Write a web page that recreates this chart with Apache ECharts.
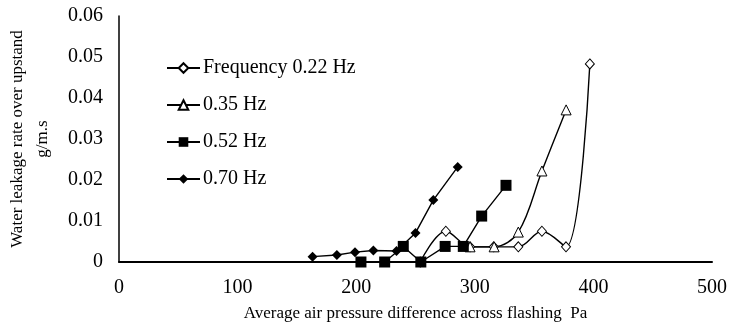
<!DOCTYPE html>
<html>
<head>
<meta charset="utf-8">
<script src="https://cdn.jsdelivr.net/npm/echarts@6/dist/echarts.min.js"></script>
<style>
  html, body { margin: 0; padding: 0; background: #fff; }
  #chart { width: 741px; height: 332px; }
</style>
</head>
<body>
<div id="chart"></div>
<script>
// Leakage rate (g/m.s) against average pressure difference (Pa), per oscillation frequency
const seriesNames = ['Frequency 0.22 Hz', '0.35 Hz', '0.52 Hz', '0.70 Hz'];

const freq022 = [[254, 0], [275.6, 0.0075], [296, 0.0037], [316, 0.0037], [336.7, 0.0037], [356.6, 0.0075], [376.9, 0.0037], [397, 0.0483]];
const freq035 = [[296, 0.0037], [316.3, 0.0037], [336.7, 0.0073], [356.6, 0.0222], [377, 0.0371]];
const freq052 = [[204, 0], [224, 0], [239.7, 0.0038], [254.5, 0], [275, 0.0038], [290.3, 0.0038], [305.8, 0.0112], [326.3, 0.0187]];
const freq070 = [[163.2, 0.0013], [183.7, 0.0017], [199, 0.0024], [214.5, 0.0028], [234, 0.0027], [250, 0.0071], [265, 0.0151], [285.6, 0.0232]];

const xTicks = { min: 0, max: 500, interval: 100 };
const yTicks = { min: 0, max: 0.06, interval: 0.01 };

const serif = '"Liberation Serif", "Times New Roman", serif';

function makeSeries(name, data, symbol, hollow, smooth, size) {
  return {
    name: name,
    type: 'line',
    data: data,
    smooth: smooth,
    symbol: symbol,
    symbolSize: size,
    showAllSymbol: true,
    lineStyle: { color: '#000', width: 1.4 },
    itemStyle: hollow
      ? { color: '#fff', borderColor: '#000', borderWidth: 1 }
      : { color: '#000', borderColor: '#000', borderWidth: 0 },
    emphasis: { disabled: true },
    z: 3
  };
}

const chart = echarts.init(document.getElementById('chart'), null, { renderer: 'canvas' });
chart.setOption({
  animation: false,
  backgroundColor: '#fff',
  grid: { left: 119, right: 29, top: 16, bottom: 70, containLabel: false, outerBoundsMode: 'none' },
  legend: {
    orient: 'vertical',
    left: 166,
    top: 58,
    padding: 0,
    itemWidth: 33,
    itemHeight: 12,
    itemGap: 17,
    textStyle: { fontFamily: serif, fontSize: 20, color: '#000', padding: [0, 0, 0, -2], lineHeight: 20 },
    data: seriesNames
  },
  xAxis: {
    type: 'value',
    min: xTicks.min,
    max: xTicks.max,
    interval: xTicks.interval,
    name: 'Average air pressure difference across flashing  Pa',
    nameLocation: 'middle',
    nameGap: 43,
    nameTextStyle: { fontFamily: serif, fontSize: 17, color: '#000' },
    axisLine: { show: true, onZero: false, lineStyle: { color: '#000', width: 2 } },
    axisTick: { show: false },
    splitLine: { show: false },
    axisLabel: { fontFamily: serif, fontSize: 20, color: '#000', margin: 16 }
  },
  yAxis: {
    type: 'value',
    min: yTicks.min,
    max: yTicks.max,
    interval: yTicks.interval,
    name: 'Water leakage rate over upstand\ng/m.s',
    nameLocation: 'middle',
    nameGap: 64,
    nameTextStyle: { fontFamily: serif, fontSize: 17, color: '#000', lineHeight: 25 },
    axisLine: { show: true, lineStyle: { color: '#000', width: 1.5 } },
    axisTick: { show: false },
    splitLine: { show: false },
    axisLabel: { fontFamily: serif, fontSize: 20, color: '#000', margin: 16 }
  },
  series: [
    makeSeries(seriesNames[0], freq022, 'diamond', true, 0.35, [9, 10]),
    makeSeries(seriesNames[1], freq035, 'triangle', true, 0.35, 10),
    makeSeries(seriesNames[2], freq052, 'rect', false, false, 11),
    makeSeries(seriesNames[3], freq070, 'diamond', false, false, [10, 10])
  ]
});
</script>
</body>
</html>
